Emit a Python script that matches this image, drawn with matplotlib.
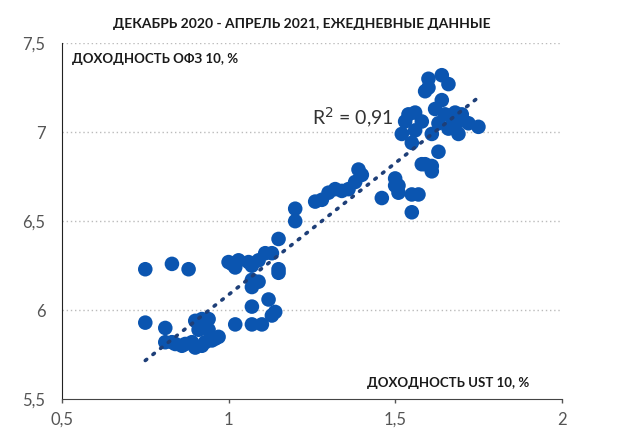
import numpy as np
import matplotlib
matplotlib.use("Agg")
import matplotlib.pyplot as plt

plt.rcParams['font.family'] = ['Lato', 'DejaVu Sans']

# yields, %: UST 10y (x) vs OFZ 10y (y), Dec 2020 - Apr 2021
ust = [0.75, 0.83, 0.88, 0.75, 0.81, 0.81, 0.84, 0.87, 0.90, 0.93, 0.96, 0.92, 0.93, 0.91, 0.94,
       0.86, 0.89, 0.92, 0.95, 0.90, 0.94, 0.83, 0.97,
       1.00, 1.03, 1.06, 1.09, 1.11, 1.13, 1.15, 1.15, 1.07, 1.07, 1.09, 1.12, 1.07, 1.02, 1.07,
       1.10, 1.13, 1.14, 1.02, 1.01, 1.07, 1.15,
       1.20, 1.20, 1.26, 1.28, 1.30, 1.32, 1.34, 1.36, 1.38, 1.39, 1.40, 1.46, 1.50, 1.51, 1.51,
       1.55, 1.57, 1.55, 1.58,
       1.60, 1.64, 1.66, 1.59, 1.60, 1.64, 1.62, 1.54, 1.56, 1.53, 1.58, 1.65, 1.68, 1.70, 1.72,
       1.69, 1.66, 1.69, 1.63, 1.61, 1.56, 1.52, 1.55, 1.63, 1.59, 1.61, 1.61, 1.50, 1.75, 1.67]
ofz = [6.23, 6.26, 6.23, 5.93, 5.90, 5.82, 5.81, 5.81, 5.79, 5.82, 5.84, 5.95, 5.91, 5.89, 5.89,
       5.80, 5.82, 5.80, 5.83, 5.94, 5.95, 5.82, 5.85,
       6.27, 6.28, 6.27, 6.28, 6.32, 6.32, 6.40, 6.21, 6.17, 6.13, 6.16, 6.06, 6.02, 5.92, 5.92,
       5.92, 5.97, 5.99, 6.24, 6.26, 6.25, 6.23,
       6.57, 6.50, 6.61, 6.62, 6.66, 6.68, 6.67, 6.68, 6.72, 6.79, 6.76, 6.63, 6.74, 6.70, 6.66,
       6.65, 6.65, 6.55, 6.82,
       7.30, 7.32, 7.27, 7.23, 7.25, 7.18, 7.13, 7.10, 7.11, 7.06, 7.06, 7.10, 7.11, 7.10, 7.05,
       7.06, 7.02, 6.99, 7.05, 6.99, 7.01, 6.99, 6.94, 6.89, 6.82, 6.81, 6.78, 6.70, 7.03, 7.08]

x_ticks = [0.5, 1, 1.5, 2]
x_labels = ['0,5', '1', '1,5', '2']
y_ticks = [5.5, 6, 6.5, 7, 7.5]
y_labels = ['5,5', '6', '6,5', '7', '7,5']

fig = plt.figure(figsize=(6.2, 4.45), dpi=100)
ax = fig.add_axes([0.1, 0.103, 0.806, 0.8])

ax.scatter(ust, ofz, s=110, color='#0b55b0', edgecolors='none', zorder=3)

# linear trend
k, b = np.polyfit(ust, ofz, 1)
xs = np.array([min(ust), max(ust)])
ax.plot(xs, k * xs + b, color='#1e3f78', lw=2.6, linestyle=(0, (0.5, 2.2)),
        dash_capstyle='round', zorder=4)

ax.text(1.25, 7.04, 'R$^2$ = 0,91', fontsize=14, color='#333333', va='baseline')

ax.set_xlim(0.5, 2)
ax.set_ylim(5.5, 7.5)
ax.set_xticks(x_ticks)
ax.set_xticklabels(x_labels)
ax.set_yticks(y_ticks)
ax.set_yticklabels(y_labels)
ax.tick_params(labelsize=12, colors='#555555')
ax.tick_params(axis='x', length=3, width=1, pad=6)
ax.tick_params(axis='y', length=0, pad=12)

for y in y_ticks[1:]:
    ax.axhline(y, color='#bbbbbb', lw=1, linestyle=(0, (1, 2)), zorder=1)

ax.spines['top'].set_visible(False)
ax.spines['right'].set_visible(False)
ax.spines['left'].set_color('#222222')
ax.spines['bottom'].set_color('#444444')

ax.text(0.02, 0.955, 'ДОХОДНОСТЬ ОФЗ 10, %', transform=ax.transAxes,
        fontsize=9.5, fontweight='bold', color='#1a1a1a', va='center')
ax.text(0.936, 0.045, 'ДОХОДНОСТЬ UST 10, %', transform=ax.transAxes,
        fontsize=9.5, fontweight='bold', color='#1a1a1a', va='center', ha='right')
fig.text(0.487, 0.945, 'ДЕКАБРЬ 2020 - АПРЕЛЬ 2021, ЕЖЕДНЕВНЫЕ ДАННЫЕ',
         fontsize=10, fontweight='bold', color='#1a1a1a', ha='center', va='center')

fig.savefig('out.png', dpi=100)
